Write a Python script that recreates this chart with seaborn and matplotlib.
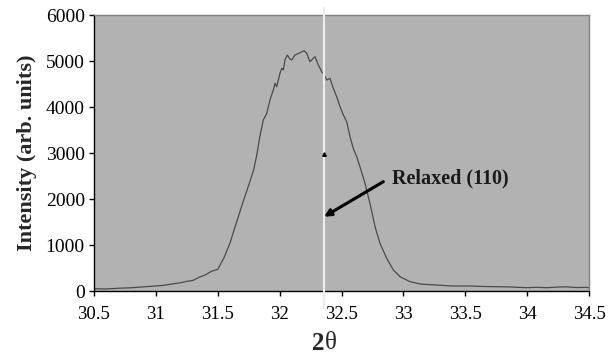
import matplotlib
matplotlib.use("Agg")
import matplotlib.pyplot as plt
import matplotlib.transforms as mtransforms
import seaborn as sns
import pandas as pd

# ---- data ----
two_theta = [30.50, 30.60, 30.70, 30.80, 30.90, 31.00, 31.05, 31.10, 31.15, 31.20,
             31.25, 31.30, 31.35, 31.40, 31.45, 31.50, 31.55, 31.60, 31.65, 31.70,
             31.75, 31.79, 31.815, 31.84, 31.868, 31.896, 31.922, 31.949, 31.963, 31.976,
             32.003, 32.017, 32.030, 32.043, 32.062, 32.080, 32.098, 32.124, 32.165, 32.197,
             32.219, 32.245, 32.272, 32.286, 32.313, 32.340, 32.361, 32.380, 32.407, 32.434,
             32.461, 32.488, 32.515, 32.542, 32.569, 32.595, 32.623, 32.649, 32.69, 32.73,
             32.771, 32.811, 32.865, 32.919, 32.973, 33.054, 33.134, 33.20, 33.27, 33.35,
             33.40, 33.54, 33.62, 33.72, 33.835, 33.996, 34.08, 34.158, 34.24, 34.32,
             34.40, 34.48, 34.50]
intensity = [50, 45, 60, 70, 90, 110, 120, 140, 160, 180,
             210, 230, 300, 350, 430, 470, 720, 1050, 1480, 1900,
             2300, 2630, 2950, 3354, 3717, 3863, 4152, 4370, 4515, 4441,
             4733, 4841, 4804, 5022, 5130, 5050, 5022, 5130, 5180, 5224,
             5167, 4985, 5059, 5093, 4913, 4767, 4696, 4587, 4623, 4406,
             4224, 4007, 3826, 3680, 3354, 3100, 2920, 2702, 2341, 1906,
             1398, 1037, 711, 457, 311, 202, 152, 140, 130, 115,
             109, 109, 100, 94, 90, 72, 80, 72, 85, 90,
             75, 80, 70]

x_ticks = [30.5, 31, 31.5, 32, 32.5, 33, 33.5, 34, 34.5]
x_tick_labels = ["30.5", "31", "31.5", "32", "32.5", "33", "33.5", "34", "34.5"]
y_ticks = [0, 1000, 2000, 3000, 4000, 5000, 6000]
y_tick_labels = ["0", "1000", "2000", "3000", "4000", "5000", "6000"]

marker_line_x = [32.36, 32.36]
marker_line_y = [6150, -370]
small_mark_x = [32.36]
small_mark_y = [2980]
annot_text = "Relaxed (110)"
annot_text_xy = (32.91, 2440)
arrow_tail = (32.838, 2376)
arrow_head = (32.359, 1615)
xlabel_parts = ("2", "θ")
xlabel_x = 32.365

df = pd.DataFrame({"two_theta": two_theta, "intensity": intensity})

sns.set_theme(style="ticks")
plt.rcParams["font.family"] = ["Liberation Serif", "DejaVu Serif"]

fig = plt.figure(figsize=(6.12, 3.56), dpi=100)
ax = fig.add_axes([94 / 612, 1 - 291 / 356, (589 - 94) / 612, (291 - 15) / 356])
ax.set_facecolor("#b2b2b2")

sns.lineplot(data=df, x="two_theta", y="intensity", ax=ax, color="#4a4a4a",
             linewidth=0.9, estimator=None, sort=False)

ax.plot(marker_line_x, marker_line_y, color="#ececec", linewidth=1.6,
        clip_on=False, zorder=4)
ax.plot(small_mark_x, small_mark_y, marker="^", color="black", markersize=2.5,
        linestyle="none", zorder=5)

ax.annotate("", xy=arrow_head, xytext=arrow_tail,
            arrowprops=dict(arrowstyle="-|>", color="black", lw=2.2,
                            mutation_scale=10, shrinkA=0, shrinkB=0), zorder=6)
ax.text(annot_text_xy[0], annot_text_xy[1], annot_text, fontsize=14.5,
        fontweight="bold", ha="left", va="center", color="#1a1a1a")

ax.set_xlim(30.5, 34.5)
ax.set_ylim(0, 6000)
ax.set_xticks(x_ticks)
ax.set_xticklabels(x_tick_labels, fontsize=13.5)
ax.set_yticks(y_ticks)
ax.set_yticklabels(y_tick_labels, fontsize=14)
ax.tick_params(axis="both", direction="out", length=3.6, width=1, color="black",
               labelcolor="black")
ax.tick_params(axis="x", pad=7)
ax.tick_params(axis="y", pad=3)

for side in ["left", "bottom"]:
    ax.spines[side].set_color("black")
    ax.spines[side].set_linewidth(1.0)
for side in ["top", "right"]:
    ax.spines[side].set_visible(True)
    ax.spines[side].set_color("#808080")
    ax.spines[side].set_linewidth(1.0)

ax.set_xlabel("")
trans = mtransforms.blended_transform_factory(ax.transData, ax.transAxes)
ax.text(xlabel_x, -0.19, xlabel_parts[0], transform=trans, fontsize=18,
        fontweight="bold", ha="right", va="center")
ax.text(xlabel_x, -0.19, xlabel_parts[1], transform=trans, fontsize=18,
        fontweight="normal", ha="left", va="center")

ax.set_ylabel("Intensity (arb. units)", fontsize=16, fontweight="bold", labelpad=6)

fig.savefig("out.png", dpi=100)
